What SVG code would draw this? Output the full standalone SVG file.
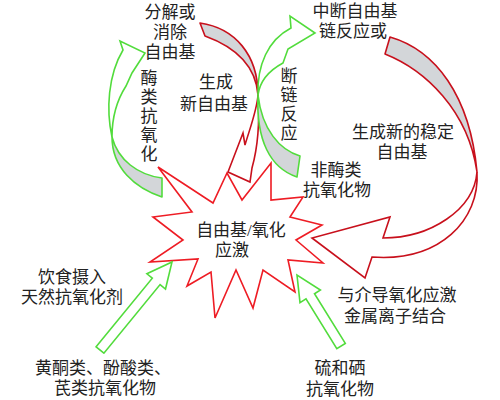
<svg xmlns="http://www.w3.org/2000/svg" width="500" height="400" viewBox="0 0 500 400">
<style>
text{font-family:"Liberation Serif","Noto Sans CJK SC",serif;font-size:17px;fill:#222;text-anchor:middle}
.vt{writing-mode:vertical-rl;text-orientation:upright;letter-spacing:2px}
.star{fill:#fff;stroke:#ee1c24;stroke-width:1.6;stroke-linejoin:miter}
.rb{fill:#d3d6d9;stroke:#c8101c;stroke-width:1.6;stroke-linejoin:round}
.rf{fill:#fff;stroke:#c8101c;stroke-width:1.6;stroke-linejoin:miter}
.gb{fill:#d3d6d9;stroke:#52dc3c;stroke-width:1.6;stroke-linejoin:round}
.gf{fill:#fff;stroke:#52dc3c;stroke-width:1.6;stroke-linejoin:miter}
</style>
<rect width="500" height="400" fill="#fff"/>
<g id="stress">
<polygon class="star" points="158,167 213,203 227,173 242,200 271,163 271,200 303,197 290,217 322,225 296,240 323,263 288,260 295,292 263,270 253,308 236,270 215,318 211,272 187,286 198,259 150,262 183,240 153,217 192,212"/>
<text><tspan x="241" y="235.5">自由基/氧化</tspan><tspan x="232" y="255.5">应激</tspan></text>
</g>
<g id="connectors">
<path class="rb" d="M390,37 C435,50 470,95 477,172 C468,110 425,70 385,54 Z"/>
<path class="rf" d="M477,172 C474,210 430,238 383,238 L390,217 L312,238 L365,278 L372,257 C440,262 480,220 477,172 Z"/>
<path class="rb" d="M200,23 C235,28 258,55 258,95 C256,68 238,48 205,36 Z"/>
<path class="rf" d="M258,95 C260,125 257,150 252,168 L250,182 L228,172 L243,133 L245,145 C250,128 257,110 258,95 Z"/>
<path class="gb" d="M162,197 C135,188 112,168 112,137 C118,160 138,175 162,178 Z"/>
<path class="gf" d="M112,137 C106,110 108,75 123,50 L120,41 L145,53 L132,73 L126,86 C117,100 112,115 112,137 Z"/>
<path class="gb" d="M300,156 C280,150 262,130 258,95 C256,140 270,168 297,177 Z"/>
<path class="gf" d="M258,95 C257,65 268,40 291,28 L290,16 L315,33 L288,49 L283,63 C270,70 260,80 258,95 Z"/>
<polygon class="gf" points="96.1,346.8 152.3,278.2 146.9,273.8 172,262 165.5,289 160.1,284.6 103.9,353.2"/>
<polygon class="gf" points="345.3,343.4 314.5,293.7 320.4,290 297,275 300,302.6 306,298.9 336.8,348.6"/>
</g>
<g id="scavenge">
<text><tspan x="170" y="18">分解或</tspan><tspan x="170" y="38">消除</tspan><tspan x="170" y="58">自由基</tspan></text>
</g>
<g id="enzymatic">
<text class="vt" x="147" y="117">酶类抗氧化</text>
</g>
<g id="newradical">
<text><tspan x="216" y="87.5">生成</tspan><tspan x="214" y="109.5">新自由基</tspan></text>
</g>
<g id="chainbreak">
<text><tspan x="355" y="17">中断自由基</tspan><tspan x="353" y="37">链反应或</tspan></text>
</g>
<g id="chainreaction">
<text class="vt" x="287" y="105">断链反应</text>
</g>
<g id="nonenzymatic">
<text><tspan x="336" y="175.5">非酶类</tspan><tspan x="337" y="195.5">抗氧化物</tspan></text>
</g>
<g id="stable">
<text><tspan x="403" y="137.5">生成新的稳定</tspan><tspan x="402" y="157.5">自由基</tspan></text>
</g>
<g id="diet">
<text><tspan x="72" y="282.5">饮食摄入</tspan><tspan x="72" y="302.5">天然抗氧化剂</tspan></text>
</g>
<g id="flavonoids">
<text><tspan x="103" y="373.5">黄酮类、酚酸类、</tspan><tspan x="105" y="393.5">芪类抗氧化物</tspan></text>
</g>
<g id="metal">
<text><tspan x="397" y="300.5">与介导氧化应激</tspan><tspan x="395" y="321.5">金属离子结合</tspan></text>
</g>
<g id="sulfur">
<text><tspan x="340" y="373.5">硫和硒</tspan><tspan x="340" y="394.5">抗氧化物</tspan></text>
</g>
</svg>
